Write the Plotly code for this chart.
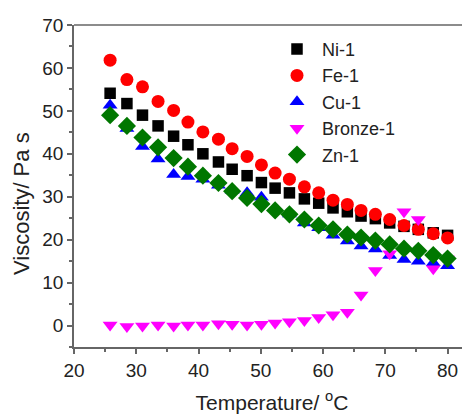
import plotly.graph_objects as go

temperature = [25.8, 28.5, 31.0, 33.5, 36.0, 38.3, 40.7, 43.2, 45.4, 47.8, 50.1, 52.3,
               54.6, 57.0, 59.3, 61.6, 63.9, 66.1, 68.4, 70.7, 73.0, 75.3, 77.7, 80.0]

ni_1 = [54.1, 51.7, 49.0, 46.5, 44.1, 42.1, 40.0, 38.1, 36.4, 34.9, 33.3, 32.0,
        30.9, 29.5, 28.5, 27.4, 26.5, 25.5, 24.9, 23.9, 23.1, 22.4, 21.6, 21.0]
fe_1 = [61.8, 57.3, 55.6, 52.2, 50.1, 47.4, 45.1, 43.4, 41.2, 39.4, 37.4, 35.5,
        34.1, 32.3, 30.9, 29.2, 28.2, 26.8, 25.9, 24.7, 23.3, 22.4, 21.4, 20.4]
cu_1 = [51.3, 45.9, 41.7, 38.8, 35.2, 34.7, 34.1, 32.7, 31.5, 30.9, 29.9, 27.2,
        26.0, 23.9, 22.8, 21.0, 19.7, 18.5, 17.8, 16.3, 15.4, 15.0, 14.6, 13.9]
bronze_1 = [0.1, -0.2, -0.1, 0.1, -0.1, 0.1, 0.1, 0.4, 0.3, 0.1, 0.3, 0.6,
            0.9, 1.2, 1.9, 2.5, 3.1, 7.1, 12.8, 16.7, 26.5, 24.7, 13.2, 15.5]
zn_1 = [49.0, 46.5, 43.8, 41.5, 39.0, 37.0, 34.9, 33.2, 31.3, 29.7, 28.3, 26.8,
        25.9, 24.7, 23.3, 22.4, 21.2, 20.5, 19.8, 18.9, 17.9, 17.4, 16.4, 15.6]

x_ticks = [20, 30, 40, 50, 60, 70, 80]
y_ticks = [0, 10, 20, 30, 40, 50, 60, 70]

series = [
    ("Ni-1", ni_1, "square", "#000000", 11.5),
    ("Fe-1", fe_1, "circle", "#ff0000", 13),
    ("Cu-1", cu_1, "triangle-up", "#0000ff", 13),
    ("Bronze-1", bronze_1, "triangle-down", "#ff00ff", 13),
    ("Zn-1", zn_1, "diamond", "#007700", 14),
]

fig = go.Figure()
for name, vals, sym, col, sz in series:
    fig.add_trace(go.Scatter(
        x=temperature, y=vals, mode="markers", name=name,
        marker=dict(symbol=sym, color=col, size=sz, line=dict(width=0)),
    ))

font = "Liberation Sans, Arial, sans-serif"
axis_col = "#666666"

# page body has an 8px default margin; the figure is sized to fit the window
fig.update_layout(
    width=462, height=407,
    margin=dict(l=66, r=0, t=17, b=68, autoexpand=False),
    paper_bgcolor="white", plot_bgcolor="white",
    font=dict(family=font, size=19, color="#222222"),
    showlegend=True,
    legend=dict(
        x=0.50, y=0.982, xanchor="left", yanchor="top",
        bgcolor="rgba(0,0,0,0)", font=dict(size=18, color="#222222"),
        tracegroupgap=0, itemsizing="trace", itemwidth=40,
    ),
    xaxis=dict(
        range=[20, 83.6], tickvals=x_ticks,
        ticks="outside", ticklen=5, tickwidth=1.5, tickcolor=axis_col,
        showline=True, linecolor=axis_col, linewidth=1.5,
        showgrid=False, zeroline=False, automargin=False,
        minor=dict(ticks="outside", ticklen=3, tickcolor=axis_col, dtick=5, tick0=20, showgrid=False),
        title=dict(text="Temperature/ <sup>o</sup>C", font=dict(size=21), standoff=16),
        tickfont=dict(size=19),
    ),
    yaxis=dict(
        range=[-5, 70], tickvals=y_ticks,
        ticks="outside", ticklen=5, tickwidth=1.5, tickcolor=axis_col,
        showline=True, linecolor=axis_col, linewidth=1.5,
        showgrid=False, zeroline=False, automargin=False,
        minor=dict(ticks="outside", ticklen=3, tickcolor=axis_col, dtick=5, tick0=0, showgrid=False),
        tickfont=dict(size=19),
    ),
    annotations=[dict(
        text="Viscosity/ Pa s", textangle=-90, showarrow=False,
        xref="paper", yref="paper", x=-0.134, y=0.447,
        xanchor="center", yanchor="middle", font=dict(size=22),
    )],
    shapes=[dict(type="line", xref="paper", yref="paper", x0=0, x1=1, y0=1, y1=1,
                 line=dict(color=axis_col, width=1.5))],
)

fig.write_html("out.html")
